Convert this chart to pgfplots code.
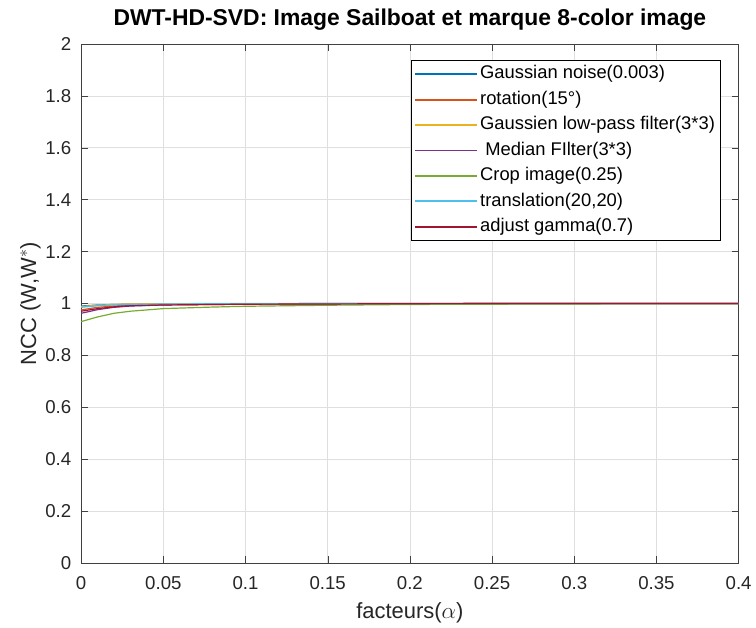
\documentclass[border=0pt]{standalone}
\usepackage{pgfplots}
\pgfplotsset{compat=1.18}
\usepackage{fontspec}
\setmainfont{Liberation Sans}
\definecolor{c1}{rgb}{0,0.447,0.741}
\definecolor{c2}{rgb}{0.850,0.325,0.098}
\definecolor{c3}{rgb}{0.929,0.694,0.125}
\definecolor{c4}{rgb}{0.494,0.184,0.556}
\definecolor{c5}{rgb}{0.466,0.674,0.188}
\definecolor{c6}{rgb}{0.301,0.745,0.933}
\definecolor{c7}{rgb}{0.635,0.078,0.184}
\begin{document}
\begin{tikzpicture}
\begin{axis}[
  name=ax,
  width=494pt, height=390pt, scale only axis,
  xmin=0, xmax=0.4, ymin=0, ymax=2,
  xtick={0,0.05,...,0.4}, ytick={0,0.2,...,2},
  xticklabels={0,0.05,0.1,0.15,0.2,0.25,0.3,0.35,0.4},
  yticklabels={0,0.2,0.4,0.6,0.8,1,1.2,1.4,1.6,1.8,2},
  grid=major, grid style={gray!25},
  axis line style={black!75, line width=0.6pt},
  tick align=inside, tick style={black!75},
  major tick length=5pt,
  ticklabel style={font=\fontsize{14}{16}\selectfont, text=black!85},
  xticklabel shift=7pt, yticklabel shift=4pt,
  title={\bfseries DWT-HD-SVD: Image Sailboat et marque 8-color image},
  title style={font=\fontsize{17.2}{19}\selectfont, at={(axis description cs:0.5,1)}, anchor=center, yshift=12pt},
  xlabel={facteurs($\alpha$)}, ylabel={NCC (W,W$^{*}$)},
  label style={font=\fontsize{16.5}{19}\selectfont, text=black!85},
  xlabel style={at={(axis description cs:0.5,-0.096)}, anchor=center},
  ylabel style={at={(axis description cs:-0.077,0.5)}, anchor=center},
  legend style={at={(1,1)}, xshift=-13.5pt, yshift=-12pt, anchor=north east, draw=black, line width=0.6pt,
    font=\fontsize{13.8}{15}\selectfont, cells={anchor=west}, row sep=2.1pt, inner sep=2pt,
    nodes={inner sep=2pt, text height=10pt, text depth=3pt}},
  legend cell align=left,
  legend image code/.code={\draw[#1, line width=1.3pt] (-5pt,0pt) -- (41pt,0pt);},
]
\addplot[color=c1, line width=0.9pt] coordinates {(0,0.990)(0.01,0.994)(0.02,0.996)(0.03,0.997)(0.05,0.998)(0.1,0.999)(0.2,1)(0.3,1)(0.4,1)};
\addlegendentry{Gaussian noise(0.003)}
\addplot[color=c2, line width=0.9pt] coordinates {(0,0.975)(0.01,0.985)(0.02,0.990)(0.03,0.993)(0.05,0.996)(0.1,0.998)(0.2,0.999)(0.3,1)(0.4,1)};
\addlegendentry{rotation(15°)}
\addplot[color=c3, line width=0.9pt] coordinates {(0,0.988)(0.01,0.993)(0.02,0.996)(0.03,0.998)(0.05,0.999)(0.1,1)(0.2,1)(0.3,1)(0.4,1)};
\addlegendentry{Gaussien low-pass filter(3*3)}
\addplot[color=c4, line width=0.9pt] coordinates {(0,0.962)(0.01,0.976)(0.02,0.985)(0.03,0.990)(0.05,0.994)(0.1,0.997)(0.2,0.999)(0.3,1)(0.4,1)};
\addlegendentry{\ Median FIlter(3*3)}
\addplot[color=c5, line width=0.9pt] coordinates {(0,0.930)(0.01,0.948)(0.02,0.962)(0.03,0.970)(0.05,0.980)(0.08,0.986)(0.1,0.989)(0.15,0.993)(0.2,0.996)(0.3,0.998)(0.4,0.999)};
\addlegendentry{Crop image(0.25)}
\addplot[color=c6, line width=0.9pt] coordinates {(0,0.985)(0.01,0.991)(0.02,0.994)(0.03,0.996)(0.05,0.998)(0.1,0.999)(0.2,1)(0.3,1)(0.4,1)};
\addlegendentry{translation(20,20)}
\addplot[color=c7, line width=0.9pt] coordinates {(0,0.970)(0.01,0.980)(0.02,0.987)(0.03,0.991)(0.05,0.994)(0.1,0.997)(0.2,0.999)(0.3,1)(0.4,1)};
\addlegendentry{adjust gamma(0.7)}
\end{axis}
\path[use as bounding box] ([xshift=-61pt,yshift=-46.5pt]ax.south west) rectangle ([xshift=12pt,yshift=33pt]ax.north east);
\end{tikzpicture}
\end{document}
